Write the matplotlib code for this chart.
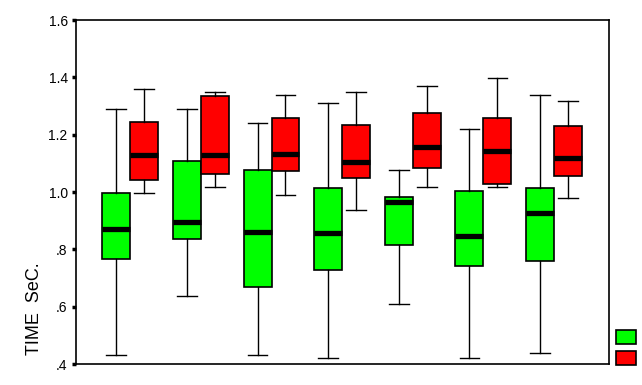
import matplotlib
matplotlib.use("Agg")
import matplotlib.pyplot as plt
from matplotlib.patches import Rectangle

plt.rcParams['font.family'] = ['Liberation Sans', 'DejaVu Sans']

groups = [1, 2, 3, 4, 5, 6, 7]
# green series
g_whislo = [0.430, 0.636, 0.430, 0.420, 0.608, 0.420, 0.437]
g_q1     = [0.765, 0.835, 0.667, 0.727, 0.815, 0.741, 0.758]
g_med    = [0.870, 0.896, 0.862, 0.856, 0.964, 0.845, 0.926]
g_q3     = [0.995, 1.107, 1.076, 1.013, 0.982, 1.002, 1.013]
g_whishi = [1.288, 1.288, 1.240, 1.309, 1.076, 1.219, 1.337]
# red series
r_whislo = [0.995, 1.016, 0.988, 0.936, 1.016, 1.016, 0.978]
r_q1     = [1.041, 1.062, 1.073, 1.048, 1.083, 1.027, 1.055]
r_med    = [1.128, 1.128, 1.134, 1.104, 1.158, 1.142, 1.118]
r_q3     = [1.243, 1.334, 1.257, 1.233, 1.274, 1.257, 1.229]
r_whishi = [1.358, 1.348, 1.337, 1.348, 1.369, 1.397, 1.316]

yticks = [0.4, 0.6, 0.8, 1.0, 1.2, 1.4, 1.6]
ytick_labels = ['.4', '.6', '.8', '1.0', '1.2', '1.4', '1.6']
ylabel = 'TIME  SeC.'

def stats(lo, q1, med, q3, hi):
    return [dict(whislo=a, q1=b, med=c, q3=d, whishi=e, fliers=[])
            for a, b, c, d, e in zip(lo, q1, med, q3, hi)]

fig = plt.figure(figsize=(6.42, 3.85), dpi=100)
W, H = 642, 385
ax = fig.add_axes([76 / W, 1 - 364 / H, (609 - 76) / W, (364 - 20) / H])

bw = 0.396
common = dict(widths=bw, capwidths=0.28, patch_artist=True, manage_ticks=False,
              boxprops=dict(edgecolor='black', linewidth=1.2),
              whiskerprops=dict(color='black', linewidth=1.0),
              capprops=dict(color='black', linewidth=1.0),
              medianprops=dict(color='black', linewidth=3.8, solid_capstyle='butt'))

bg = ax.bxp(stats(g_whislo, g_q1, g_med, g_q3, g_whishi),
            positions=[g - bw / 2 for g in groups], **common)
br = ax.bxp(stats(r_whislo, r_q1, r_med, r_q3, r_whishi),
            positions=[g + bw / 2 for g in groups], **common)
for b in bg['boxes']:
    b.set_facecolor('#00ff00')
for b in br['boxes']:
    b.set_facecolor('#ff0000')

ax.set_xlim(0.232, 7.778)
ax.set_ylim(0.4, 1.6)
ax.set_xticks([])
ax.set_yticks(yticks)
ax.set_yticklabels(ytick_labels, fontsize=10)
ax.tick_params(axis='y', direction='out', length=3, width=2.5, pad=3)
for s in ax.spines.values():
    s.set_linewidth(1.2)

ax.set_ylabel(ylabel, fontsize=13)
ax.yaxis.set_label_coords(-0.062, 0.16)

# legend swatches (no visible text)
for y0, col in [(330, '#00ff00'), (351, '#ff0000')]:
    fig.add_artist(Rectangle((616 / W, 1 - (y0 + 14) / H), 19.5 / W, 14 / H,
                             facecolor=col, edgecolor='black', linewidth=1.2,
                             transform=fig.transFigure))

fig.savefig('out.png', dpi=100)
